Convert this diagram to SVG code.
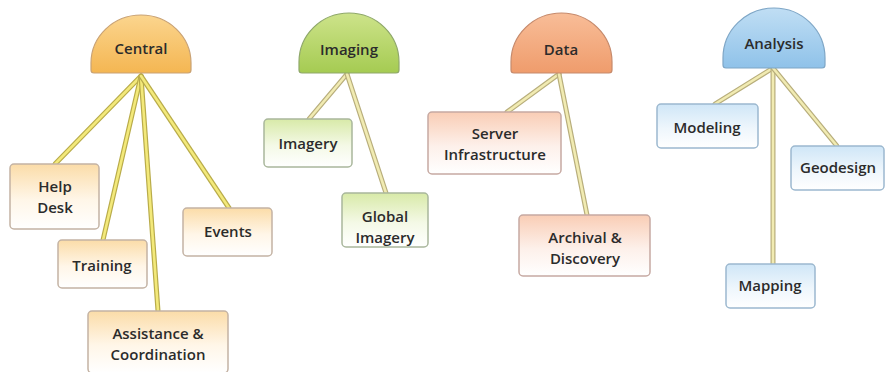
<svg xmlns="http://www.w3.org/2000/svg" xmlns:xlink="http://www.w3.org/1999/xlink" width="886" height="372" viewBox="0 0 886 372">
  <style>
    text { font-family: "Open Sans", Lato, "Liberation Sans", sans-serif; font-weight: 600; font-size: 15px; fill: #2b2b2b; text-anchor: middle; dominant-baseline: central; }
    .dome { stroke-width: 1.2; }
    .box { stroke-width: 1.5; }
    .edge-out { fill: none; stroke-width: 5; stroke-linecap: round; }
    .edge-in { fill: none; stroke-width: 2.6; stroke-linecap: round; }
    .c-out { stroke: #b9ac4a; } .c-in { stroke: #f3e97a; }
    .o-out { stroke: #b8ae7c; } .o-in { stroke: #f1ebb2; }
  </style>
  <defs>
    <linearGradient id="gDomeOrange" x1="0" y1="0" x2="0" y2="1">
      <stop offset="0" stop-color="#fbd58e"/><stop offset="1" stop-color="#f4b652"/>
    </linearGradient>
    <linearGradient id="gDomeGreen" x1="0" y1="0" x2="0" y2="1">
      <stop offset="0" stop-color="#cde38a"/><stop offset="1" stop-color="#a5cb52"/>
    </linearGradient>
    <linearGradient id="gDomeSalmon" x1="0" y1="0" x2="0" y2="1">
      <stop offset="0" stop-color="#f8bd98"/><stop offset="1" stop-color="#ef9c6c"/>
    </linearGradient>
    <linearGradient id="gDomeBlue" x1="0" y1="0" x2="0" y2="1">
      <stop offset="0" stop-color="#c0def4"/><stop offset="1" stop-color="#8fc2e9"/>
    </linearGradient>
    <linearGradient id="gBoxOrange" x1="0" y1="0" x2="0" y2="1">
      <stop offset="0" stop-color="#fbdca8"/><stop offset="0.55" stop-color="#fff6e8"/><stop offset="1" stop-color="#ffffff"/>
    </linearGradient>
    <linearGradient id="gBoxGreen" x1="0" y1="0" x2="0" y2="1">
      <stop offset="0" stop-color="#d8eaa8"/><stop offset="0.55" stop-color="#f4f9e6"/><stop offset="1" stop-color="#ffffff"/>
    </linearGradient>
    <linearGradient id="gBoxSalmon" x1="0" y1="0" x2="0" y2="1">
      <stop offset="0" stop-color="#f9cdb5"/><stop offset="0.55" stop-color="#fdf0ea"/><stop offset="1" stop-color="#ffffff"/>
    </linearGradient>
    <linearGradient id="gBoxBlue" x1="0" y1="0" x2="0" y2="1">
      <stop offset="0" stop-color="#cfe6f7"/><stop offset="0.55" stop-color="#eef6fc"/><stop offset="1" stop-color="#ffffff"/>
    </linearGradient>

    <!-- connector geometry, drawn twice for a rimmed rail look -->
    <path id="e1" d="M141,76 L55,164"/>
    <path id="e2" d="M141,76 L103,240"/>
    <path id="e3" d="M141,76 L158,311"/>
    <path id="e4" d="M141,76 L229,208"/>
    <path id="e5" d="M347,74 L309,119"/>
    <path id="e6" d="M347,74 L386,193"/>
    <path id="e7" d="M559,74 L507,112"/>
    <path id="e8" d="M559,74 L587,215"/>
    <path id="e9" d="M773,68 L715,104"/>
    <path id="e10" d="M773,68 L773,264"/>
    <path id="e11" d="M773,68 L837,146"/>
  </defs>

  <rect width="886" height="372" fill="#ffffff"/>

  <g id="connectors">
    <use xlink:href="#e1" class="edge-out c-out"/><use xlink:href="#e1" class="edge-in c-in"/>
    <use xlink:href="#e2" class="edge-out c-out"/><use xlink:href="#e2" class="edge-in c-in"/>
    <use xlink:href="#e3" class="edge-out c-out"/><use xlink:href="#e3" class="edge-in c-in"/>
    <use xlink:href="#e4" class="edge-out c-out"/><use xlink:href="#e4" class="edge-in c-in"/>
    <use xlink:href="#e5" class="edge-out o-out"/><use xlink:href="#e5" class="edge-in o-in"/>
    <use xlink:href="#e6" class="edge-out o-out"/><use xlink:href="#e6" class="edge-in o-in"/>
    <use xlink:href="#e7" class="edge-out o-out"/><use xlink:href="#e7" class="edge-in o-in"/>
    <use xlink:href="#e8" class="edge-out o-out"/><use xlink:href="#e8" class="edge-in o-in"/>
    <use xlink:href="#e9" class="edge-out o-out"/><use xlink:href="#e9" class="edge-in o-in"/>
    <use xlink:href="#e10" class="edge-out o-out"/><use xlink:href="#e10" class="edge-in o-in"/>
    <use xlink:href="#e11" class="edge-out o-out"/><use xlink:href="#e11" class="edge-in o-in"/>
  </g>

  <!-- Central group -->
  <g id="central">
    <path class="dome" fill="url(#gDomeOrange)" stroke="#c9a274" d="M91,70 Q91,73 94,73 L188,73 Q191,73 191,70 L191,63 A50,48 0 0 0 91,63 Z"/>
    <text x="141" y="48">Central</text>
  </g>
  <g id="help-desk">
    <rect class="box" x="10" y="164" width="89" height="65" rx="4" fill="url(#gBoxOrange)" stroke="#c4b3a4"/>
    <text x="55" y="186">Help</text>
    <text x="55" y="207">Desk</text>
  </g>
  <g id="training">
    <rect class="box" x="58" y="240" width="89" height="48" rx="4" fill="url(#gBoxOrange)" stroke="#c4b3a4"/>
    <text x="102" y="265">Training</text>
  </g>
  <g id="assistance">
    <rect class="box" x="88" y="311" width="140" height="62" rx="4" fill="url(#gBoxOrange)" stroke="#c4b3a4"/>
    <text x="158" y="333">Assistance &amp;</text>
    <text x="158" y="354">Coordination</text>
  </g>
  <g id="events">
    <rect class="box" x="183" y="208" width="89" height="48" rx="4" fill="url(#gBoxOrange)" stroke="#c4b3a4"/>
    <text x="228" y="231">Events</text>
  </g>

  <!-- Imaging group -->
  <g id="imaging">
    <path class="dome" fill="url(#gDomeGreen)" stroke="#8fa86a" d="M299,70 Q299,73 302,73 L396,73 Q399,73 399,70 L399,62 A50,49 0 0 0 299,62 Z"/>
    <text x="349" y="49">Imaging</text>
  </g>
  <g id="imagery">
    <rect class="box" x="264" y="119" width="88" height="48" rx="4" fill="url(#gBoxGreen)" stroke="#a9b79c"/>
    <text x="308" y="143">Imagery</text>
  </g>
  <g id="global-imagery">
    <rect class="box" x="342" y="193" width="86" height="54" rx="4" fill="url(#gBoxGreen)" stroke="#a9b79c"/>
    <text x="385" y="216">Global</text>
    <text x="385" y="237">Imagery</text>
  </g>

  <!-- Data group -->
  <g id="data">
    <path class="dome" fill="url(#gDomeSalmon)" stroke="#c68a6c" d="M511,70 Q511,73 514,73 L609,73 Q612,73 612,70 L612,62 A50.5,49 0 0 0 511,62 Z"/>
    <text x="561" y="49">Data</text>
  </g>
  <g id="server-infrastructure">
    <rect class="box" x="428" y="112" width="133" height="62" rx="4" fill="url(#gBoxSalmon)" stroke="#c6a9a2"/>
    <text x="495" y="133">Server</text>
    <text x="495" y="154">Infrastructure</text>
  </g>
  <g id="archival-discovery">
    <rect class="box" x="519" y="215" width="131" height="61" rx="4" fill="url(#gBoxSalmon)" stroke="#c6a9a2"/>
    <text x="585" y="237">Archival &amp;</text>
    <text x="585" y="258">Discovery</text>
  </g>

  <!-- Analysis group -->
  <g id="analysis">
    <path class="dome" fill="url(#gDomeBlue)" stroke="#7ea6c6" d="M723,65 Q723,68 726,68 L822,68 Q825,68 825,65 L825,58 A51,50 0 0 0 723,58 Z"/>
    <text x="774" y="43">Analysis</text>
  </g>
  <g id="modeling">
    <rect class="box" x="657" y="104" width="101" height="44" rx="4" fill="url(#gBoxBlue)" stroke="#9cb8cf"/>
    <text x="707" y="127">Modeling</text>
  </g>
  <g id="geodesign">
    <rect class="box" x="791" y="146" width="93" height="44" rx="4" fill="url(#gBoxBlue)" stroke="#9cb8cf"/>
    <text x="838" y="167">Geodesign</text>
  </g>
  <g id="mapping">
    <rect class="box" x="726" y="264" width="89" height="44" rx="4" fill="url(#gBoxBlue)" stroke="#9cb8cf"/>
    <text x="770" y="285">Mapping</text>
  </g>
</svg>
